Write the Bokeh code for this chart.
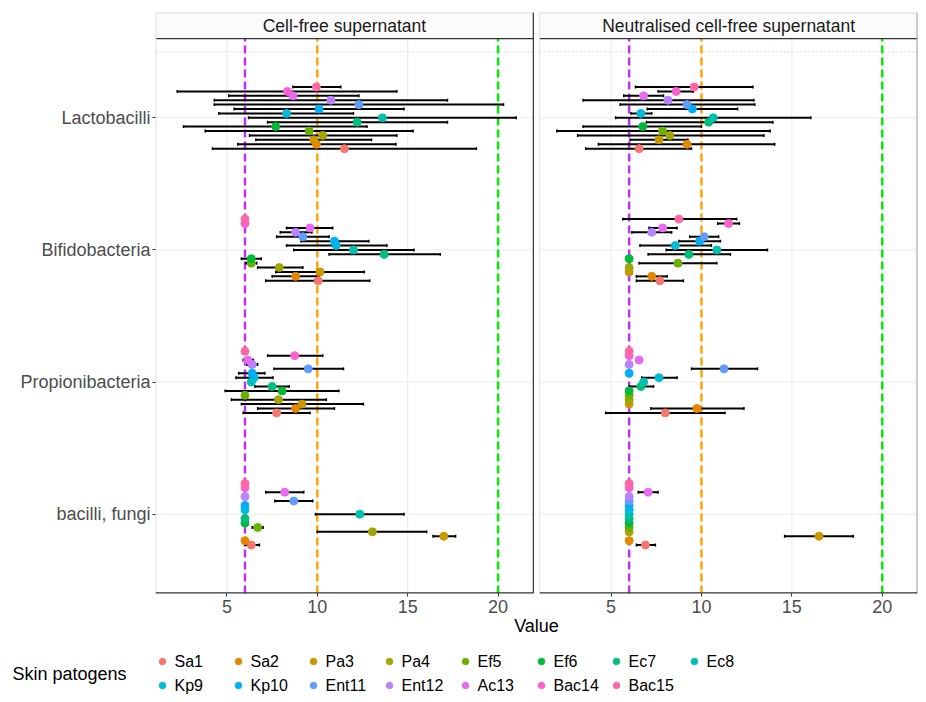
import numpy as np
from bokeh.plotting import figure
from bokeh.layouts import column
from bokeh.models import Range1d, FixedTicker, ColumnDataSource
from bokeh.core.properties import value
from bokeh.embed import file_html
from bokeh.resources import INLINE

N = None
pathogens = ["Sa1", "Sa2", "Pa3", "Pa4", "Ef5", "Ef6", "Ec7", "Ec8",
             "Kp9", "Kp10", "Ent11", "Ent12", "Ac13", "Bac14", "Bac15"]
colors = ["#F8766D", "#E58700", "#C99800", "#A3A500", "#6BB100", "#00BA38",
          "#00BF7D", "#00C0AF", "#00BCD8", "#00B0F6", "#619CFF", "#B983FF",
          "#E76BF3", "#FD61D1", "#FF67A4"]
categories = ["bacilli, fungi", "Propionibacteria", "Bifidobacteria", "Lactobacilli"]
panels = ["Cell-free supernatant", "Neutralised cell-free supernatant"]
x_ticks = [5, 10, 15, 20]
ref_values = [6, 10, 20]
ref_colors = ["#C22EF7", "#FFA500", "#00EE00"]
legend_title = "Skin patogens"
x_label = "Value"

# ---- Cell-free supernatant ----
cf_lac_mean = [11.5, 9.95, 9.8, 10.3, 9.55, 7.7, 12.2, 13.6, 8.3, 10.1, 12.3, 10.75, 8.65, 8.35, 9.95]
cf_lac_low = [4.2, 5.6, 6.6, 6.25, 3.8, 2.6, 7.25, 6.2, 4.55, 5.4, 4.3, 4.3, 5.1, 2.25, 8.65]
cf_lac_high = [18.8, 14.35, 13.0, 14.4, 15.3, 12.75, 17.2, 21.0, 12.0, 14.8, 20.3, 17.2, 12.3, 14.4, 11.3]

cf_bif_mean = [10.05, 8.8, 10.15, 7.9, 6.35, 6.35, 13.7, 12.0, 11.05, 10.95, 9.2, 8.8, 9.6, 6.0, 6.0]
cf_bif_low = [7.15, 7.5, 7.7, 6.7, 6.05, 5.8, 10.65, 8.7, 8.3, 9.1, 7.75, 7.95, 8.3, N, N]
cf_bif_high = [12.9, 10.1, 12.6, 9.2, 6.65, 6.9, 16.8, 15.35, 13.85, 12.85, 10.65, 9.7, 10.85, N, N]

cf_pro_mean = [7.75, 8.8, 9.15, 7.85, 6.0, 8.05, 7.5, 6.35, 6.5, 6.4, 9.5, 6.4, 6.15, 8.75, 6.0]
cf_pro_low = [5.9, 6.7, 5.8, 5.25, N, 4.9, 6.55, N, 5.5, 5.65, 7.6, 6.1, 5.9, 7.25, N]
cf_pro_high = [9.6, 10.95, 12.55, 10.5, N, 11.2, 8.45, N, 7.55, 7.1, 11.45, 6.7, 6.45, 10.3, N]

cf_bac_mean = [6.35, 6.0, 17.0, 13.05, 6.7, 6.0, 6.0, 12.35, 6.0, 6.0, 8.7, 6.0, 8.2, 6.0, 6.0]
cf_bac_low = [6.0, N, 16.4, 10.0, 6.4, N, N, 9.9, N, N, 7.65, N, 7.15, N, N]
cf_bac_high = [6.8, N, 17.65, 16.05, 7.0, N, N, 14.8, N, N, 9.75, N, 9.25, N, N]

# ---- Neutralised cell-free supernatant ----
nc_lac_mean = [6.55, 9.2, 7.65, 8.25, 7.85, 6.75, 10.4, 10.65, 6.65, 9.5, 9.2, 8.15, 6.8, 8.6, 9.6]
nc_lac_low = [3.6, 4.3, 6.05, 3.15, 2.0, 3.45, 6.95, 5.25, 6.1, 7.0, 5.5, 3.45, 5.7, 7.6, 6.35]
nc_lac_high = [9.45, 14.05, 9.25, 13.45, 13.8, 10.0, 13.95, 16.05, 7.25, 12.0, 12.95, 12.9, 7.9, 9.55, 12.85]

nc_bif_mean = [7.7, 7.25, 6.0, 6.0, 8.7, 6.0, 9.3, 10.85, 8.55, 9.9, 10.15, 7.25, 7.85, 11.5, 8.75]
nc_bif_low = [6.4, 6.4, N, N, 6.55, N, 7.05, 8.05, 6.6, 8.75, 9.35, 6.15, 7.1, 10.9, 5.65]
nc_bif_high = [9.0, 8.1, N, N, 10.85, N, 11.6, 13.65, 10.55, 11.05, 10.95, 8.35, 8.65, 12.1, 11.95]

nc_pro_mean = [8.0, 9.75, 6.0, 6.0, 6.0, 6.0, 6.65, 6.8, 7.65, 6.0, 11.25, 6.0, 6.55, 6.0, 6.0]
nc_pro_low = [4.7, 7.2, N, N, N, N, 6.0, N, 6.7, N, 9.45, N, N, N, N]
nc_pro_high = [11.3, 12.35, N, N, N, N, 7.35, N, 8.65, N, 13.1, N, N, N, N]

nc_bac_mean = [6.9, 6.0, 16.5, 6.0, 6.0, 6.0, 6.0, 6.0, 6.0, 6.0, 6.0, 6.0, 7.05, 6.0, 6.0]
nc_bac_low = [6.4, N, 14.6, N, N, N, N, N, N, N, N, N, 6.5, N, N]
nc_bac_high = [7.45, N, 18.4, N, N, N, N, N, N, N, N, N, 7.6, N, N]

panel_data = [
    {"bacilli, fungi": (cf_bac_mean, cf_bac_low, cf_bac_high),
     "Propionibacteria": (cf_pro_mean, cf_pro_low, cf_pro_high),
     "Bifidobacteria": (cf_bif_mean, cf_bif_low, cf_bif_high),
     "Lactobacilli": (cf_lac_mean, cf_lac_low, cf_lac_high)},
    {"bacilli, fungi": (nc_bac_mean, nc_bac_low, nc_bac_high),
     "Propionibacteria": (nc_pro_mean, nc_pro_low, nc_pro_high),
     "Bifidobacteria": (nc_bif_mean, nc_bif_low, nc_bif_high),
     "Lactobacilli": (nc_lac_mean, nc_lac_low, nc_lac_high)},
]

FONT = value("Liberation Sans")

# ---- scales / layout constants ----
XLO, XHI = 1.05, 21.95
GAP = 0.35
OFF = (XHI - XLO) + GAP
YLO, YHI = 0.4, 4.6
STRIP = 0.197
YTOP = YHI + STRIP
DODGE = 0.5
ncat = len(pathogens)

p = figure(width=926, height=641, x_range=Range1d(XLO, XHI + OFF),
           y_range=Range1d(YLO, YTOP), output_backend="svg",
           toolbar_location=None, min_border_left=155, min_border_right=9,
           min_border_top=12, min_border_bottom=48)
p.frame_align = False
p.grid.visible = False
p.outline_line_color = None
p.background_fill_color = "white"

offsets = [0, OFF]

# grid
for off in offsets:
    p.segment(x0=[t + off for t in x_ticks], x1=[t + off for t in x_ticks],
              y0=YLO, y1=YHI, line_color="#EBEBEB", line_width=1)
    p.segment(x0=XLO + off, x1=XHI + off, y0=[1, 2, 3, 4], y1=[1, 2, 3, 4],
              line_color="#EBEBEB", line_width=1)
    # dotted top line
    p.segment(x0=[XLO + off], x1=[XHI + off], y0=[4.5], y1=[4.5],
              line_color="#D5D5D5", line_width=1, line_dash="2 2")
    # reference dashed lines
    p.segment(x0=[v + off for v in ref_values], x1=[v + off for v in ref_values],
              y0=YLO, y1=YHI, line_color=ref_colors, line_width=2.5, line_dash="8 4")

# data
for pi, off in enumerate(offsets):
    xs, ys, cs, lo, hi, ey = [], [], [], [], [], []
    for ci, cat in enumerate(categories):
        mean, low, high = panel_data[pi][cat]
        for i in range(ncat):
            y = ci + 1 + (i - (ncat - 1) / 2) * DODGE / ncat
            xs.append(mean[i] + off)
            ys.append(y)
            cs.append(colors[i])
            if low[i] is not None:
                lo.append(low[i] + off)
                hi.append(high[i] + off)
                ey.append(y)
    ey = np.array(ey)
    p.segment(x0=lo, x1=hi, y0=ey, y1=ey, line_color="black", line_width=2)
    cap = 0.011
    p.segment(x0=lo, x1=lo, y0=ey - cap, y1=ey + cap, line_color="black", line_width=1.5)
    p.segment(x0=hi, x1=hi, y0=ey - cap, y1=ey + cap, line_color="black", line_width=1.5)
    src = ColumnDataSource(dict(x=xs, y=ys, c=cs))
    p.scatter("x", "y", source=src, size=8, fill_color="c", line_color="c")

# strips and borders
for pi, off in enumerate(offsets):
    p.quad(left=[XLO + off], right=[XHI + off], bottom=[YHI], top=[YTOP],
           fill_color="#FBFBFB", line_color=None)
    p.text(x=[(XLO + XHI) / 2 + off], y=[(YHI + YTOP) / 2], text=[panels[pi]],
           text_align="center", text_baseline="middle", text_font=FONT,
           text_font_size="17.5px", text_color="#1A1A1A")
    p.segment(x0=[XLO + off], x1=[XHI + off], y0=[YTOP], y1=[YTOP],
              line_color="#DDDDDD", line_width=2)
    p.segment(x0=[XLO + off], x1=[XHI + off], y0=[YHI], y1=[YHI],
              line_color="#333333", line_width=1.2)
    p.segment(x0=[XLO + off], x1=[XLO + off], y0=[YLO], y1=[YTOP],
              line_color="#E0E0E0", line_width=2 if pi == 0 else 1)
    p.segment(x0=[XHI + off], x1=[XHI + off], y0=[YLO], y1=[YTOP],
              line_color="#333333" if pi == 0 else "#999999",
              line_width=1.2 if pi == 0 else 2)
    p.segment(x0=[XLO + off], x1=[XHI + off], y0=[YLO], y1=[YLO],
              line_color="#333333", line_width=2.4)

# axes
all_ticks = x_ticks + [t + OFF for t in x_ticks]
p.xaxis.ticker = FixedTicker(ticks=all_ticks)
p.xaxis.major_label_overrides = {t + OFF: str(t) for t in x_ticks}
p.xaxis.minor_tick_line_color = None
p.xaxis.axis_line_color = None
p.xaxis.major_tick_out = 3
p.xaxis.major_tick_in = 0
p.xaxis.major_tick_line_color = "#333333"
p.xaxis.major_label_text_font = "Liberation Sans"
p.xaxis.major_label_text_font_size = "18px"
p.xaxis.major_label_text_color = "#4D4D4D"
p.xaxis.major_label_standoff = 3
p.xaxis.axis_label = x_label
p.xaxis.axis_label_text_font = "Liberation Sans"
p.xaxis.axis_label_text_font_size = "18px"
p.xaxis.axis_label_text_font_style = "normal"
p.xaxis.axis_label_text_color = "black"
p.xaxis.axis_label_standoff = 0

p.yaxis.ticker = FixedTicker(ticks=[1, 2, 3, 4])
p.yaxis.major_label_overrides = {i + 1: c for i, c in enumerate(categories)}
p.yaxis.minor_tick_line_color = None
p.yaxis.axis_line_color = None
p.yaxis.major_tick_out = 3
p.yaxis.major_tick_in = 0
p.yaxis.major_tick_line_color = "#333333"
p.yaxis.major_label_text_font = "Liberation Sans"
p.yaxis.major_label_text_font_size = "18px"
p.yaxis.major_label_text_color = "#4D4D4D"
p.yaxis.major_label_standoff = 2

# ---- legend figure ----
LH = 61
lg = figure(width=926, height=LH, x_range=Range1d(0, 926), y_range=Range1d(LH, 0),
            output_backend="svg", toolbar_location=None,
            x_axis_location=None, y_axis_location=None,
            min_border_left=0, min_border_right=0, min_border_top=0, min_border_bottom=0)
lg.frame_align = False
lg.grid.visible = False
lg.outline_line_color = None
col_x = [162, 238, 313, 389, 465, 541, 616, 694]
row_y = [20, 44]
lx, ly, lc, lt, tx = [], [], [], [], []
for i, name in enumerate(pathogens):
    r, c = divmod(i, 8)
    lx.append(col_x[c]); ly.append(row_y[r]); lc.append(colors[i]); lt.append(name)
    tx.append(col_x[c] + 12)
lsrc = ColumnDataSource(dict(x=lx, y=ly, c=lc, t=lt, tx=tx))
lg.scatter("x", "y", source=lsrc, size=6.5, fill_color="c", line_color="c")
lg.text("tx", "y", text="t", source=lsrc, text_baseline="middle", text_align="left",
        text_font=FONT, text_font_size="16px", text_color="black")
lg.text(x=[12], y=[(row_y[0] + row_y[1]) / 2], text=[legend_title],
        text_baseline="middle", text_align="left", text_font=FONT,
        text_font_size="18px", text_color="black")

layout = column(p, lg, spacing=0)
open("out.html", "w").write(file_html(layout, INLINE))
